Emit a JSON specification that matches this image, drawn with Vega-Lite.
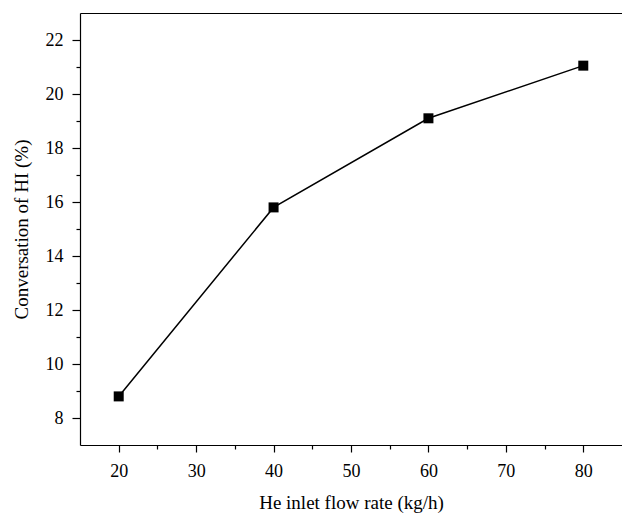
{
  "$schema": "https://vega.github.io/schema/vega-lite/v6.json",
  "autosize": {"type": "none"},
  "width": 542,
  "height": 432,
  "padding": {"left": 80, "top": 13, "right": 0, "bottom": 68},
  "background": "white",
  "config": {
    "view": {"stroke": null},
    "font": "Liberation Serif",
    "axis": {
      "domainColor": "black",
      "domainWidth": 1.2,
      "tickColor": "black",
      "tickWidth": 1.2,
      "labelFont": "Liberation Serif",
      "titleFont": "Liberation Serif",
      "labelColor": "black",
      "titleColor": "black",
      "labelFontSize": 18,
      "titleFontSize": 19,
      "titleFontWeight": "normal",
      "grid": false
    }
  },
  "data": {
    "values": [
      {"flow": 20, "conv": 8.8},
      {"flow": 40, "conv": 15.8},
      {"flow": 60, "conv": 19.1},
      {"flow": 80, "conv": 21.05}
    ]
  },
  "layer": [
    {
      "mark": {"type": "line", "color": "black", "strokeWidth": 1.5},
      "encoding": {
        "x": {
          "field": "flow", "type": "quantitative",
          "scale": {"domain": [15, 85], "nice": false, "zero": false},
          "axis": {"orient": "bottom", "values": [20, 30, 40, 50, 60, 70, 80], "tickSize": 7, "labelPadding": 10, "title": "He inlet flow rate (kg/h)", "titlePadding": 13}
        },
        "y": {
          "field": "conv", "type": "quantitative",
          "scale": {"domain": [7, 23], "nice": false, "zero": false},
          "axis": {"orient": "left", "values": [8, 10, 12, 14, 16, 18, 20, 22], "tickSize": 8, "labelPadding": 9, "title": "Conversation of HI (%)", "titlePadding": 14}
        }
      }
    },
    {
      "mark": {"type": "square", "color": "black", "size": 100, "opacity": 1, "filled": true},
      "encoding": {
        "x": {"field": "flow", "type": "quantitative", "axis": {"orient": "bottom", "values": [25, 35, 45, 55, 65, 75], "tickSize": 4, "labels": false, "domain": false, "title": null}},
        "y": {"field": "conv", "type": "quantitative", "axis": {"orient": "left", "values": [9, 11, 13, 15, 17, 19, 21], "tickSize": 4, "labels": false, "domain": false, "title": null}}
      }
    },
    {
      "mark": {"type": "point", "opacity": 0},
      "encoding": {
        "x": {"field": "flow", "type": "quantitative", "axis": {"orient": "top", "ticks": false, "labels": false, "domain": true, "title": null}},
        "y": {"field": "conv", "type": "quantitative", "axis": null}
      }
    }
  ],
  "resolve": {"axis": {"x": "independent", "y": "independent"}}
}
